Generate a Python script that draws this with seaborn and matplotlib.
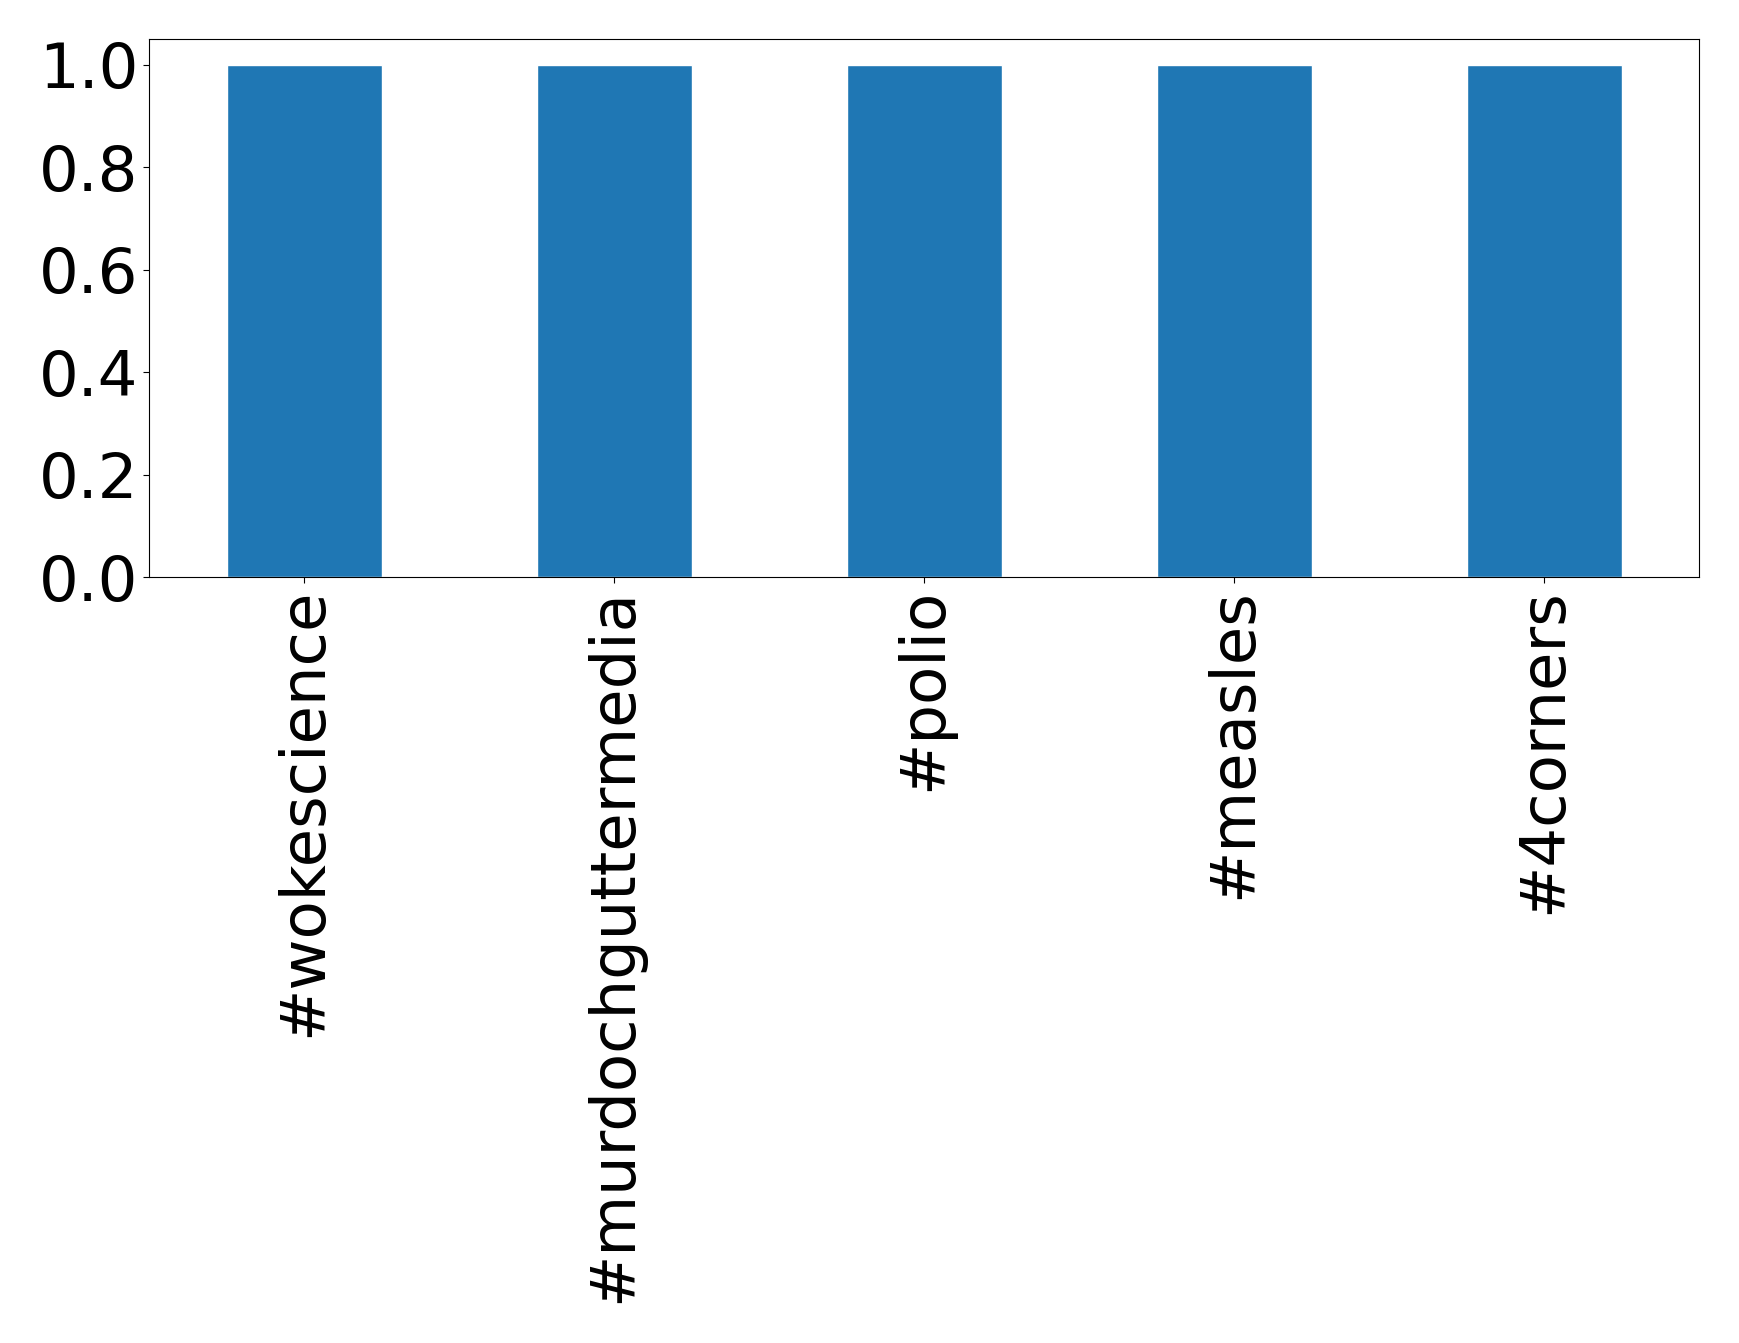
import matplotlib
matplotlib.use("Agg")
import matplotlib.pyplot as plt
import pandas as pd
import seaborn as sns

hashtags = ["#wokescience", "#murdochguttermedia", "#polio", "#measles", "#4corners"]
counts = [1, 1, 1, 1, 1]

df = pd.DataFrame({"hashtag": hashtags, "count": counts})

sns.set_style("white")
plt.rcParams["font.family"] = ["DejaVu Sans"]

fig = plt.figure(figsize=(17.39, 13.43), dpi=100)
ax = fig.add_axes([0.0857, 0.570, 0.977 - 0.0857, 0.971 - 0.570])
sns.barplot(data=df, x="hashtag", y="count", color="#1f77b4", saturation=1,
            width=0.5, ax=ax)
ax.set_xlim(-0.5, len(hashtags) - 0.5)
ax.set_ylim(0, 1.05)
ax.set_xlabel("")
ax.set_ylabel("")
for s in ax.spines.values():
    s.set_visible(True)
    s.set_color("black")
    s.set_linewidth(0.8)
ax.tick_params(axis="both", labelsize=45, length=4, width=0.8, bottom=True, left=True,
               colors="black", labelcolor="black")
ax.set_yticks([0.0, 0.2, 0.4, 0.6, 0.8, 1.0])
plt.setp(ax.get_xticklabels(), rotation=90)

fig.savefig("out.png", dpi=100)
